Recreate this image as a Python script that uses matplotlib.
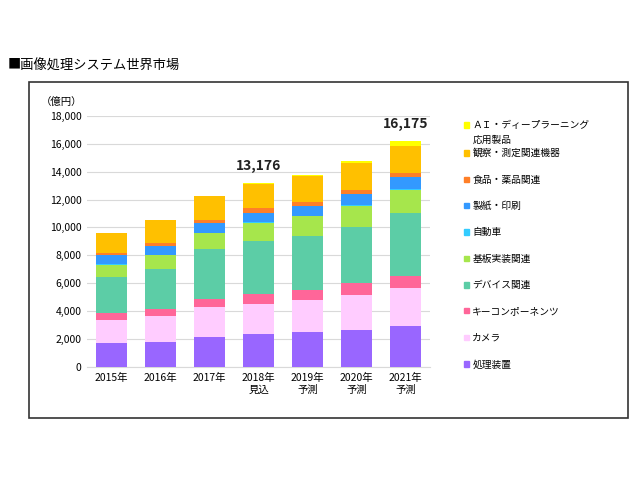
import matplotlib
matplotlib.use('Agg')
import matplotlib.pyplot as plt
from matplotlib.patches import Rectangle
import numpy as np

plt.rcParams['font.family'] = ['Noto Sans CJK JP', 'DejaVu Sans']

years = ['2015年', '2016年', '2017年', '2018年\n見込', '2019年\n予測', '2020年\n予測', '2021年\n予測']

# bottom to top (億円)
segments = ['処理装置', 'カメラ', 'キーコンポーネンツ', 'デバイス関連', '基板実装関連',
            '自動車', '製紙・印刷', '食品・薬品関連', '観察・測定関連機器',
            'ＡＩ・ディープラーニング\n応用製品']
shori   = [1700, 1770, 2180, 2370, 2490, 2680, 2960]
camera  = [1700, 1860, 2100, 2150, 2340, 2480, 2680]
keycomp = [470, 500, 600, 740, 720, 860, 910]
device  = [2580, 2890, 3580, 3780, 3850, 4040, 4470]
kiban   = [890, 1000, 1120, 1290, 1390, 1510, 1670]
jidosha = [30, 30, 40, 40, 50, 60, 70]
seishi  = [640, 640, 680, 700, 720, 780, 820]
shokuhin = [150, 215, 240, 310, 260, 260, 290]
kansatsu = [1450, 1600, 1700, 1740, 1860, 1910, 1990]
ai      = [0, 0, 30, 56, 80, 170, 315]
series = [shori, camera, keycomp, device, kiban, jidosha, seishi, shokuhin, kansatsu, ai]
colors = ['#9966FF', '#FFCCFF', '#FF6699', '#5CCDA6', '#A6E64C',
          '#33CCFF', '#3399FF', '#FF7F27', '#FFC000', '#FFFF00']

totals = {3: '13,176', 6: '16,175'}

fig = plt.figure(figsize=(6.4, 4.8), dpi=100)
ax = fig.add_axes([0.136, 0.235, 0.536, 0.524])

x = np.arange(len(years))
bottom = np.zeros(len(years))
for vals, c in zip(series, colors):
    ax.bar(x, vals, bottom=bottom, width=0.63, color=c, zorder=3)
    bottom += np.array(vals)

for i, lab in totals.items():
    ax.text(x[i], bottom[i] + 1250, lab, ha='center', va='center',
            fontsize=10, fontweight='bold', color='#222222')

ax.set_xlim(-0.5, len(years) - 0.5)
ax.set_ylim(0, 18000)
ax.set_yticks(range(0, 18001, 2000))
ax.set_yticklabels([f'{v:,}' for v in range(0, 18001, 2000)], fontsize=7.5)
ax.set_xticks(x)
ax.set_xticklabels(years, fontsize=7.5, linespacing=1.3)
ax.tick_params(length=0, pad=4)
ax.grid(axis='y', color='#D9D9D9', linewidth=0.8, zorder=0)
for s in ax.spines.values():
    s.set_visible(False)
ax.spines['bottom'].set_visible(True)
ax.spines['bottom'].set_color('#D9D9D9')

fig.text(0.063, 0.787, '（億円）', fontsize=7.5, ha='left', va='center')
fig.text(0.012, 0.863, '■画像処理システム世界市場', fontsize=9.5, ha='left', va='center')

# frame around chart
fig.patches.append(Rectangle((0.045, 0.129), 0.936, 0.700, transform=fig.transFigure,
                             fill=False, edgecolor='#333333', linewidth=1.2))

# legend, top entry first
leg_y = [0.739, 0.681, 0.625, 0.571, 0.516, 0.461, 0.406, 0.352, 0.296, 0.241]
for name, c, yy in zip(segments[::-1], colors[::-1], leg_y):
    fig.patches.append(Rectangle((0.725, yy - 0.005), 0.008, 0.011,
                                 transform=fig.transFigure, color=c))
    if '\n' in name:
        first, second = name.split('\n')
        fig.text(0.738, yy, first, fontsize=7, ha='left', va='center')
        fig.text(0.738, yy - 0.031, second, fontsize=7, ha='left', va='center')
    else:
        fig.text(0.738, yy, name, fontsize=7, ha='left', va='center')

fig.savefig('out.png', dpi=100)
